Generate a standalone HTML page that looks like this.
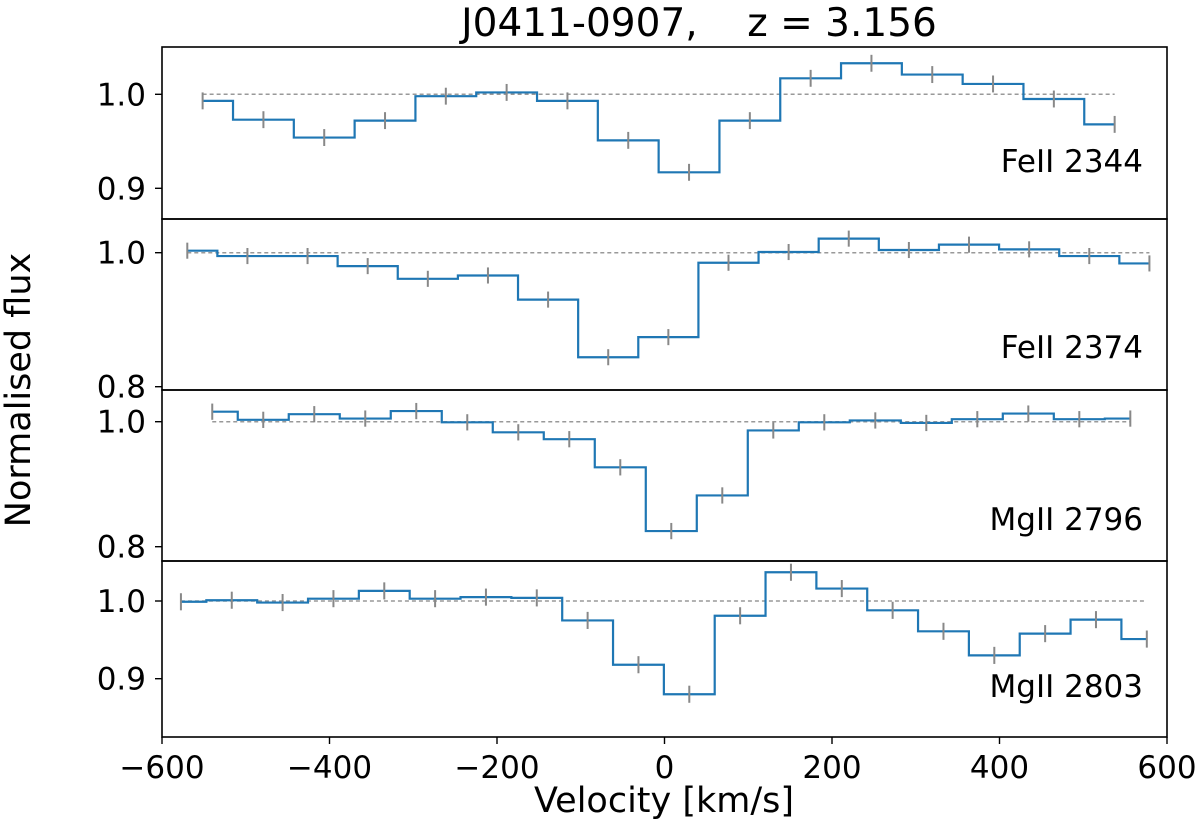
<!DOCTYPE html>
<html><head><meta charset="utf-8"><style>
html,body{margin:0;padding:0;background:#fff;}
svg{display:block;font-family:"DejaVu Sans","Liberation Sans",sans-serif;}
</style></head><body>
<svg id="chart" width="1200" height="836" viewBox="0 0 1200 836">
<text x="699" y="36" font-size="39" text-anchor="middle" xml:space="preserve">J0411-0907,    z = 3.156</text>
<text transform="translate(30,390) rotate(-90)" font-size="35" text-anchor="middle">Normalised flux</text>
<text x="664" y="812" font-size="35" text-anchor="middle">Velocity [km/s]</text>
<g id="panels"></g>
</svg>
<script>
const labels = ["FeII 2344","FeII 2374","MgII 2796","MgII 2803"];
const v0s = [-551.5,-569.8,-540,-577.4];
const dvs = [72.6,71.8,60.9,60.7];
const flux1 = [0.993,0.973,0.954,0.972,0.998,1.002,0.993,0.951,0.917,0.972,1.017,1.033,1.021,1.011,0.995,0.968];
const flux2 = [1.003,0.995,0.995,0.980,0.961,0.966,0.930,0.844,0.874,0.985,1.001,1.021,1.004,1.012,1.005,0.995,0.984];
const flux3 = [1.016,1.003,1.012,1.005,1.017,0.999,0.983,0.972,0.927,0.825,0.882,0.986,0.999,1.002,0.998,1.004,1.013,1.004,1.005];
const flux4 = [0.999,1.001,0.998,1.003,1.013,1.003,1.005,1.004,0.975,0.918,0.880,0.981,1.037,1.016,0.988,0.961,0.930,0.958,0.976,0.951];
const errs = [0.009,0.012,0.013,0.011];
const yTicks = [[1.0,0.9],[1.0,0.8],[1.0,0.8],[1.0,0.9]];
const xTicks = [-600,-400,-200,0,200,400,600];

const NS="http://www.w3.org/2000/svg";
const svg=document.getElementById('panels');
const X0=162,X1=1167,VMIN=-600,VMAX=600;
const xs=v=>X0+(v-VMIN)/(VMAX-VMIN)*(X1-X0);
const geo=[{t:47,b:219,p1:94.3,s:940,ly:172},{t:219,b:390,p1:252.7,s:670,ly:358},{t:390,b:561,p1:421.7,s:625,ly:530},{t:561,b:737,p1:601,s:777,ly:697}];
const fluxes=[flux1,flux2,flux3,flux4];
function mk(tag,attrs,parent){const e=document.createElementNS(NS,tag);for(const k in attrs)e.setAttribute(k,attrs[k]);(parent||svg).appendChild(e);return e;}
fluxes.forEach((f,pi)=>{
  const g=geo[pi];const ys=y=>g.p1-(y-1)*g.s;
  const grp=mk('g',{});
  
  
  const vels=f.map((_,i)=>v0s[pi]+i*dvs[pi]);
  const dl=mk('line',{x1:xs(vels[0]),x2:xs(vels[vels.length-1]),y1:ys(1),y2:ys(1),stroke:'#999','stroke-width':1.5,'stroke-dasharray':'4,3'},grp);
  
  
  let d='';const h=dvs[pi]/2;
  f.forEach((val,i)=>{
    const xa=xs(i===0?vels[i]:vels[i]-h), xb=xs(i===f.length-1?vels[i]:vels[i]+h);
    d+=(i===0?'M':'L')+xa+','+ys(val)+'L'+xb+','+ys(val);
  });
  const st=mk('path',{d:d,fill:'none',stroke:'#1f77b4','stroke-width':2.2},grp);
  
  
  f.forEach((val,i)=>{
    const eb=mk('line',{x1:xs(vels[i]),x2:xs(vels[i]),y1:ys(val-errs[pi]),y2:ys(val+errs[pi]),stroke:'#888','stroke-width':2},grp);
    
    
  });
  const fr=mk('rect',{x:X0,y:g.t,width:X1-X0,height:g.b-g.t,fill:'none',stroke:'#000','stroke-width':1.6},grp);
  
  
  yTicks[pi].forEach(t=>{
    mk('line',{x1:X0-7,x2:X0,y1:ys(t),y2:ys(t),stroke:'#000','stroke-width':1.4},grp);
    const tl=mk('text',{x:X0-16,y:ys(t)+11,'font-size':31,'text-anchor':'end'},grp);
    tl.textContent=t.toFixed(1);
    
    
  });
  const lb=mk('text',{x:1143,y:g.ly,'font-size':31,'text-anchor':'end'},grp);
  lb.textContent=labels[pi];
  
  
});
xTicks.forEach(t=>{
  mk('line',{x1:xs(t),x2:xs(t),y1:737,y2:744,stroke:'#000','stroke-width':1.4});
  const tl=mk('text',{x:xs(t),y:778,'font-size':31,'text-anchor':'middle'});
  tl.textContent=(t<0?'\u2212':'')+Math.abs(t);
  
  
});
</script>
</body></html>
